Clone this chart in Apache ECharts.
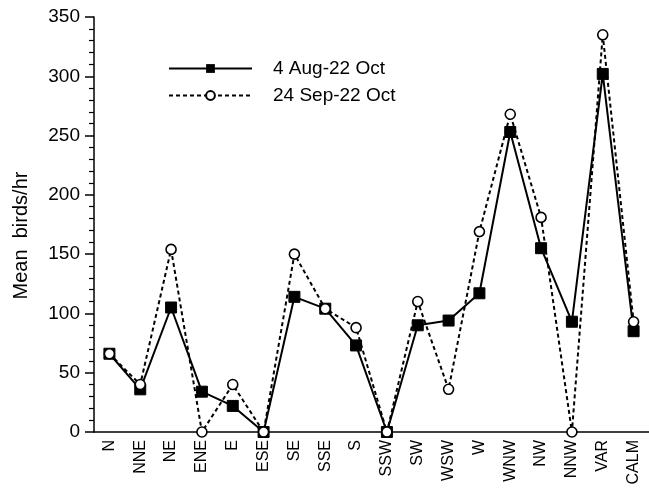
<!DOCTYPE html>
<html>
<head>
<meta charset="utf-8">
<script src="https://cdn.jsdelivr.net/npm/echarts@6/dist/echarts.min.js"></script>
<style>html,body{margin:0;padding:0;background:#fff}#c{width:649px;height:489px}</style>
</head>
<body>
<div id="c"></div>
<script>
var categories = ['N','NNE','NE','ENE','E','ESE','SE','SSE','S','SSW','SW','WSW','W','WNW','NW','NNW','VAR','CALM'];
var seriesAugOct = [66, 36, 105, 34, 22, 0, 114, 104, 73, 0, 90, 94, 117, 253, 155, 93, 302, 85];
var seriesSepOct = [66, 40, 154, 0, 40, 0, 150, 104, 88, 0, 110, 36, 169, 268, 181, 0, 335, 93];
var seriesNames = ['4 Aug-22 Oct', '24 Sep-22 Oct'];
var yTicks = [0, 50, 100, 150, 200, 250, 300, 350];

var FONT = 'Liberation Sans, Arial, Helvetica, sans-serif';
var chart = echarts.init(document.getElementById('c'), null, {renderer: 'canvas'});
chart.setOption({
  animation: false,
  backgroundColor: '#fff',
  grid: {left: 94, right: 0, top: 17, bottom: 57, containLabel: false},
  legend: {
    orient: 'vertical',
    left: 163,
    top: 54,
    itemWidth: 83,
    itemHeight: 11,
    itemGap: 8,
    textStyle: {fontFamily: FONT, fontSize: 19, color: '#000', padding: [0, 0, 0, 16]},
    data: seriesNames
  },
  xAxis: {
    type: 'category',
    data: categories,
    boundaryGap: true,
    axisLine: {lineStyle: {color: '#000', width: 1.5}},
    axisTick: {alignWithLabel: true, length: 8, lineStyle: {color: '#000', width: 1.5}},
    axisLabel: {rotate: 90, margin: 8, fontFamily: FONT, fontSize: 16, color: '#000', interval: 0},
    splitLine: {show: false}
  },
  yAxis: {
    type: 'value',
    min: yTicks[0],
    max: yTicks[yTicks.length - 1],
    interval: 50,
    name: 'Mean  birds/hr',
    nameLocation: 'middle',
    nameGap: 63,
    nameTextStyle: {fontFamily: FONT, fontSize: 20, color: '#000', padding: [0, 22, 0, 0]},
    axisLine: {show: true, lineStyle: {color: '#000', width: 1.5}},
    axisTick: {show: true, length: 9, lineStyle: {color: '#000', width: 1.5}},
    minorTick: {show: true, splitNumber: 5, length: 5, lineStyle: {color: '#000', width: 1.2}},
    axisLabel: {margin: 14, fontFamily: FONT, fontSize: 19, color: '#000'},
    splitLine: {show: false}
  },
  series: [
    {
      name: seriesNames[0],
      type: 'line',
      data: seriesAugOct,
      symbol: 'rect',
      symbolSize: 11,
      itemStyle: {color: '#000', borderColor: '#000'},
      lineStyle: {color: '#000', width: 2, type: 'solid'},
      z: 2
    },
    {
      name: seriesNames[1],
      type: 'line',
      data: seriesSepOct,
      symbol: 'circle',
      symbolSize: 10,
      showAllSymbol: true,
      itemStyle: {color: '#fff', borderColor: '#000', borderWidth: 1.6},
      lineStyle: {color: '#000', width: 2, type: [4, 3]},
      z: 3
    }
  ]
});
</script>
</body>
</html>
